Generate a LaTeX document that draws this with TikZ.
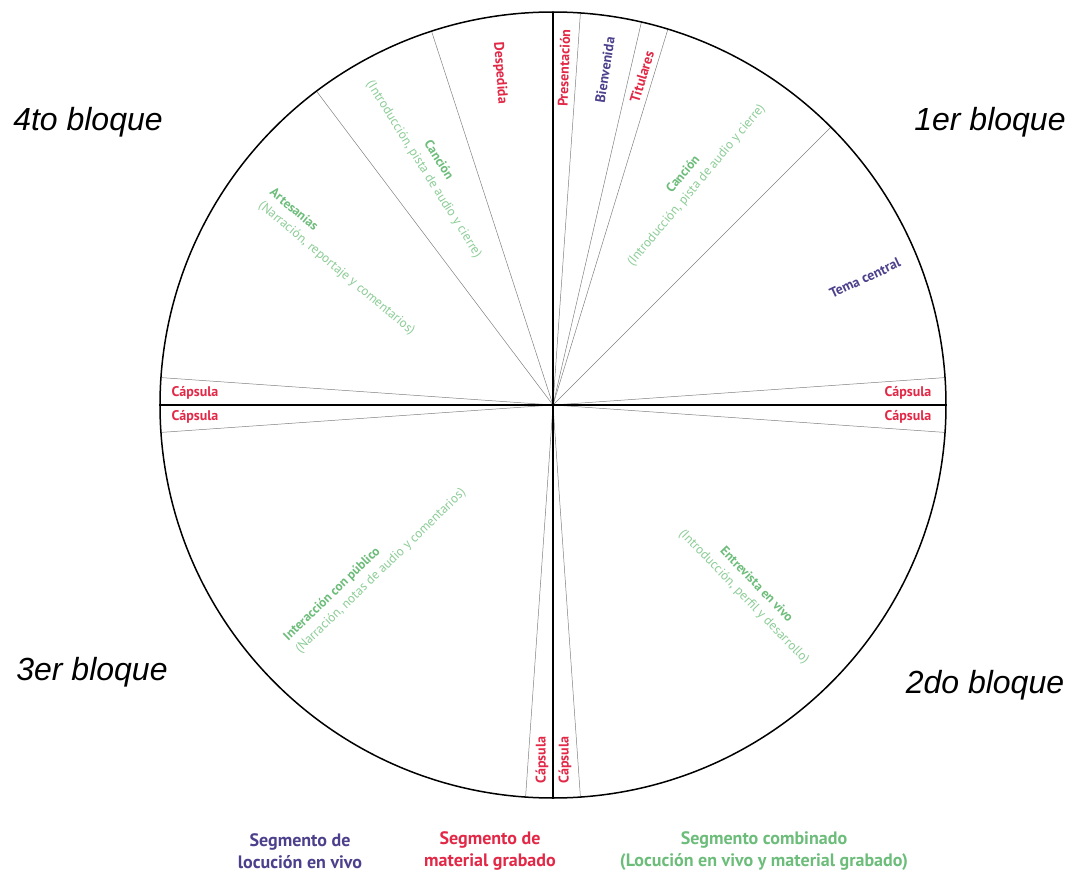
\documentclass[tikz,border=0pt]{standalone}
\usepackage{fontspec}
\setmainfont{PT Sans}
\newfontfamily\bloquefont{Liberation Sans}
\definecolor{rojo}{RGB}{226,40,70}
\definecolor{azul}{RGB}{76,64,140}
\definecolor{verde}{RGB}{108,188,122}
\definecolor{verdeclaro}{RGB}{140,204,150}
\tikzset{
	grabado/.style={text=rojo,font=\fontsize{14}{16}\selectfont\bfseries},
	vivo/.style={text=azul,font=\fontsize{14}{16}\selectfont\bfseries},
	combinado/.style={text=verdeclaro,font=\fontsize{13}{17}\selectfont},
	bloque/.style={font=\bloquefont\itshape\fontsize{32}{38}\selectfont},
	leyenda/.style={align=center,font=\fontsize{18}{22}\selectfont\bfseries},
	radio/.style={draw=gray,line width=.5pt},
}
\newcommand{\titulo}[1]{{\bfseries\color{verde}#1}}
\begin{document}
\begin{tikzpicture}[x=1pt,y=1pt]
	\useasboundingbox (-553,-468) rectangle (515,405);
	\coordinate (O) at (0,0);
	% lineas finas entre segmentos
	\foreach \a in {86,77,73,45,4,-4,-86,-94,176,184,127,108}
	\draw[radio] (O) -- (\a:393);
	% cuadrantes
	\draw[line width=1.5pt] (-393,0) -- (393,0);
	\draw[line width=1.5pt] (0,-393) -- (0,393);
	\draw[line width=1.5pt] (O) circle (393);
	% 1er bloque
	\node[grabado,rotate=88] (presentacion) at (11,337) {Presentación};
	\node[vivo,rotate=81] (bienvenida) at (52,335) {Bienvenida};
	\node[grabado,rotate=73] (titulares) at (89,328) {Titulares};
	\node[combinado,align=center,rotate=50] (cancion1) at (137,225) {\titulo{Canción}\\(Introducción, pista de audio y cierre)};
	\node[vivo,rotate=25] (tema) at (312,127) {Tema central};
	\node[grabado] (capsula1) at (355,12) {Cápsula};
	% 2do bloque
	\node[grabado] (capsula2) at (355,-12) {Cápsula};
	\node[combinado,align=center,rotate=-46] (entrevista) at (197,-186) {\titulo{Entrevista en vivo}\\(Introducción, perfil y desarrollo)};
	\node[grabado,rotate=90] (capsula3) at (12,-355) {Cápsula};
	% 3er bloque
	\node[grabado,rotate=90] (capsula4) at (-11,-355) {Cápsula};
	\node[combinado,align=left,rotate=44] (interaccion) at (-178,-160) {\titulo{Interacción con público}\\(Narración, notas de audio y comentarios)};
	\node[grabado] (capsula5) at (-358,-12) {Cápsula};
	% 4to bloque
	\node[grabado] (capsula6) at (-358,12) {Cápsula};
	\node[combinado,align=left,rotate=-40] (artesanias) at (-211,143) {\titulo{Artesanías}\\(Narración, reportaje y comentarios)};
	\node[combinado,align=center,rotate=-58] (cancion2) at (-122,240) {\titulo{Canción}\\(Introducción, pista de audio y cierre)};
	\node[grabado,rotate=-86] (despedida) at (-53,332) {Despedida};
	% bloques
	\node[bloque] (b1) at (437,283) {1er bloque};
	\node[bloque] (b2) at (432,-280) {2do bloque};
	\node[bloque] (b3) at (-461,-267) {3er bloque};
	\node[bloque] (b4) at (-465,283) {4to bloque};
	% leyenda
	\node[leyenda,text=azul] (leyvivo) at (-253,-446) {Segmento de\\locución en vivo};
	\node[leyenda,text=rojo] (leygrabado) at (-63,-446) {Segmento de\\material grabado};
	\node[leyenda,text=verde] (leycombinado) at (211,-446) {Segmento combinado\\(Locución en vivo y material grabado)};
\end{tikzpicture}
\end{document}
